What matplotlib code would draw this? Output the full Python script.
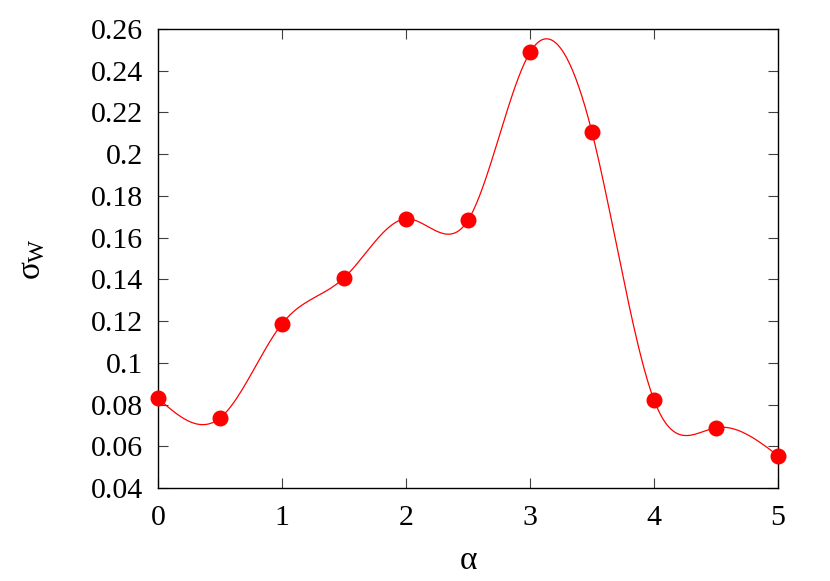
import numpy as np
import matplotlib
matplotlib.use('Agg')
import matplotlib.pyplot as plt

# values
alpha = [0.0, 0.5, 1.0, 1.5, 2.0, 2.5, 3.0, 3.5, 4.0, 4.5, 5.0]
sigma_w = [0.083, 0.0735, 0.1187, 0.1407, 0.1690, 0.1683, 0.2488, 0.2105, 0.0822, 0.0689, 0.0555]
xticks = [0, 1, 2, 3, 4, 5]
yticks = [0.04, 0.06, 0.08, 0.1, 0.12, 0.14, 0.16, 0.18, 0.2, 0.22, 0.24, 0.26]
ytick_labels = ['0.04', '0.06', '0.08', '0.1', '0.12', '0.14', '0.16', '0.18', '0.2', '0.22', '0.24', '0.26']

plt.rcParams['font.family'] = 'Liberation Serif'
plt.rcParams['font.size'] = 21.5
plt.rcParams['mathtext.fontset'] = 'custom'
plt.rcParams['mathtext.rm'] = 'Liberation Serif'
plt.rcParams['mathtext.it'] = 'Liberation Serif'


def natural_spline(x, y, n=400):
    # same thing gnuplot does with "smooth csplines"
    x = np.asarray(x, float)
    y = np.asarray(y, float)
    k = len(x)
    h = np.diff(x)
    A = np.zeros((k, k))
    b = np.zeros(k)
    A[0, 0] = A[-1, -1] = 1.0
    for i in range(1, k - 1):
        A[i, i - 1] = h[i - 1]
        A[i, i] = 2 * (h[i - 1] + h[i])
        A[i, i + 1] = h[i]
        b[i] = 6 * ((y[i + 1] - y[i]) / h[i] - (y[i] - y[i - 1]) / h[i - 1])
    M = np.linalg.solve(A, b)
    xs = np.linspace(x[0], x[-1], n)
    idx = np.clip(np.searchsorted(x, xs) - 1, 0, k - 2)
    x0, x1 = x[idx], x[idx + 1]
    hh = x1 - x0
    t0 = x1 - xs
    t1 = xs - x0
    ys = (M[idx] * t0**3 + M[idx + 1] * t1**3) / (6 * hh) \
        + (y[idx] / hh - M[idx] * hh / 6) * t0 \
        + (y[idx + 1] / hh - M[idx + 1] * hh / 6) * t1
    return xs, ys


fig = plt.figure(figsize=(8.3, 5.81), dpi=100)
ax = fig.add_axes([158 / 830, 93 / 581, 620 / 830, 459 / 581])

xs, ys = natural_spline(alpha, sigma_w)
ax.plot(xs, ys, color='red', lw=0.9, clip_on=False)
ax.plot(alpha, sigma_w, 'o', color='red', ms=10.5, mec='red', clip_on=False, zorder=3)

ax.set_xlim(0, 5)
ax.set_ylim(0.04, 0.26)
ax.set_xticks(xticks)
ax.set_yticks(yticks)
ax.set_yticklabels(ytick_labels)
ax.tick_params(direction='in', length=7, width=0.8, top=True, right=True, color='#404040')
ax.tick_params(axis='x', pad=12)
ax.tick_params(axis='y', pad=11)
for s in ax.spines.values():
    s.set_linewidth(1.0)

ax.set_xlabel('α', fontsize=24, labelpad=11)
ax.set_ylabel(r'$\sigma_{\rm W}$', fontsize=24, labelpad=31)

fig.savefig('out.png', dpi=100)
